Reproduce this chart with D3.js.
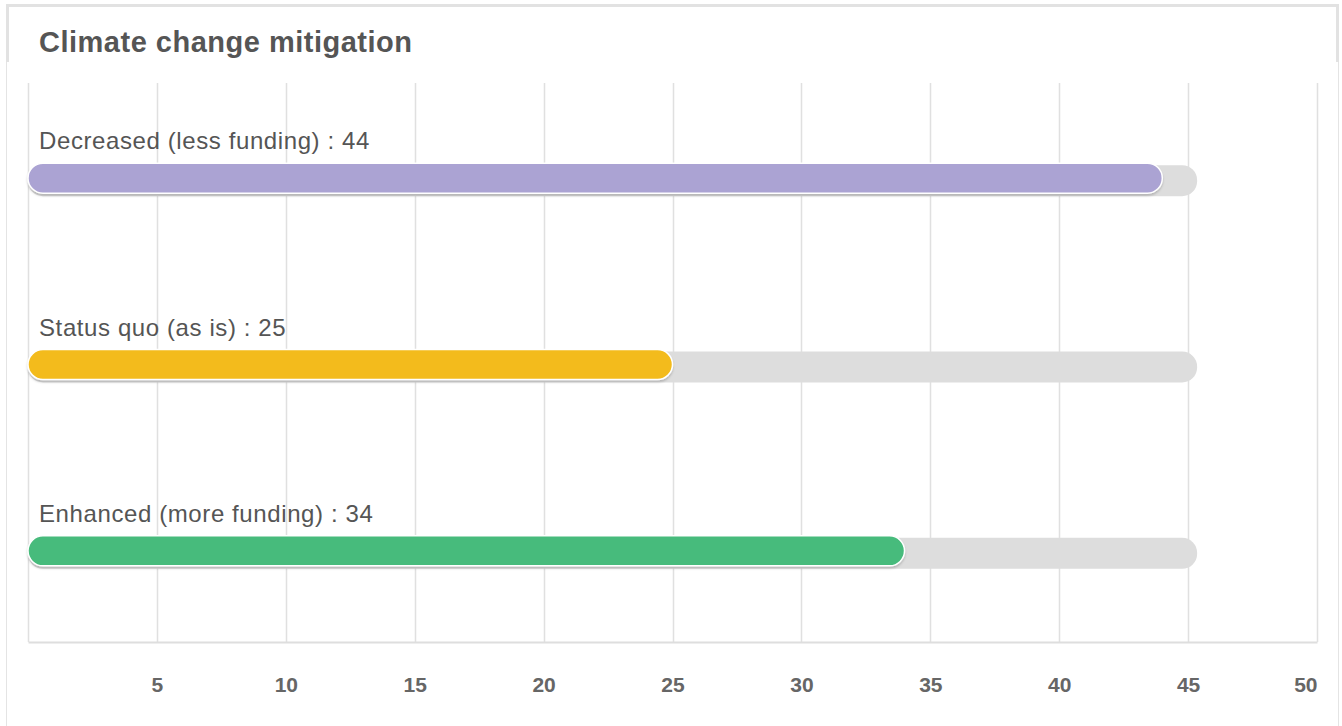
<!DOCTYPE html>
<html>
<head>
<script src="https://d3js.org/d3.v7.min.js"></script>
<style>
body {
  margin: 0;
  background: #fff;
  font-family: "Liberation Sans", Arial, Helvetica, sans-serif;
}
</style>
</head>
<body>
<div id="chart"></div>
<script>
// Data
const categories = ["Decreased (less funding)", "Status quo (as is)", "Enhanced (more funding)"];
const values = [44, 25, 34];
const colors = ["#aba3d3", "#f3bb1b", "#46bb7b"];
const tickValues = [5, 10, 15, 20, 25, 30, 35, 40, 45, 50];
const gridValues = [0, 5, 10, 15, 20, 25, 30, 35, 40, 45, 50];
const trackMax = 45.35;   // grey track behind each bar
const title = "Climate change mitigation";

const W = 1342, H = 726;
const svg = d3.select("#chart").append("svg")
  .attr("width", W)
  .attr("height", H);

// drop shadow for the bars
const defs = svg.append("defs");
const f = defs.append("filter").attr("id", "shadow")
  .attr("x", "-5%").attr("y", "-30%").attr("width", "110%").attr("height", "170%");
f.append("feDropShadow")
  .attr("dx", 0).attr("dy", 2)
  .attr("stdDeviation", 1)
  .attr("flood-color", "#000")
  .attr("flood-opacity", 0.18);

// card frame
const frame = svg.append("g");
frame.append("rect").attr("x", 6).attr("y", 4).attr("width", 1333).attr("height", 3).attr("fill", "#e2e2e2");
frame.append("rect").attr("x", 6).attr("y", 4).attr("width", 3).attr("height", 58).attr("fill", "#e2e2e2");
frame.append("rect").attr("x", 1336).attr("y", 4).attr("width", 3).attr("height", 58).attr("fill", "#e2e2e2");
frame.append("line").attr("x1", 6.5).attr("x2", 6.5).attr("y1", 62).attr("y2", H).attr("stroke", "#e4e4e4");
frame.append("line").attr("x1", 1338.5).attr("x2", 1338.5).attr("y1", 62).attr("y2", H).attr("stroke", "#e4e4e4");

svg.append("text")
  .attr("x", 39)
  .attr("y", 52)
  .attr("fill", "#555")
  .style("font-size", "29px")
  .style("letter-spacing", "0.5px")
  .style("font-weight", "bold")
  .text(title);

// scales
const margin = { top: 83, bottom: 642, left: 28, right: 1317 };
const x = d3.scaleLinear().domain([0, 50]).range([margin.left, margin.right]);
const y = d3.scaleBand().domain(categories).range([margin.top, margin.bottom]);
const barH = 30;

// grid lines
svg.append("g")
  .selectAll("line")
  .data(gridValues)
  .enter().append("line")
  .attr("x1", d => Math.round(x(d)) + 0.5)
  .attr("x2", d => Math.round(x(d)) + 0.5)
  .attr("y1", margin.top)
  .attr("y2", margin.bottom)
  .attr("stroke", "#e0e0e0")
  .attr("stroke-width", 1.5);

// x axis
const axis = svg.append("g")
  .attr("transform", `translate(0,${margin.bottom})`)
  .call(d3.axisBottom(x).tickValues(tickValues).tickSize(0).tickPadding(35).tickFormat(d3.format("d")));
axis.select(".domain").attr("stroke", "#dedede").attr("stroke-width", 2);
axis.selectAll("text")
  .attr("fill", "#666")
  .style("font-size", "21px")
  .style("font-weight", "bold")
  .style("font-family", "'Liberation Sans', Arial, sans-serif");
// last label sits inside the plot edge
axis.selectAll(".tick text").filter(d => d === 50).attr("text-anchor", "end");

// bars
const rows = svg.append("g")
  .selectAll("g")
  .data(categories)
  .enter().append("g")
  .attr("transform", (d, i) => `translate(0,${y(d) + y.bandwidth() / 2 - 13})`);

rows.append("rect")
  .attr("x", x(0))
  .attr("y", 2)
  .attr("width", x(trackMax) - x(0))
  .attr("height", barH + 1)
  .attr("rx", 15)
  .attr("fill", "#dddddd");

rows.append("rect")
  .attr("x", x(0))
  .attr("y", 0)
  .attr("width", (d, i) => x(values[i]) - x(0))
  .attr("height", barH)
  .attr("rx", 15)
  .attr("fill", (d, i) => colors[i])
  .attr("stroke", "#fff")
  .attr("stroke-width", 1.5)
  .attr("filter", "url(#shadow)");

rows.append("text")
  .attr("x", 39)
  .attr("y", -14)
  .attr("fill", "#555")
  .style("font-size", "24px")
  .style("letter-spacing", "0.6px")
  .text((d, i) => `${d} : ${values[i]}`);
</script>
</body>
</html>
